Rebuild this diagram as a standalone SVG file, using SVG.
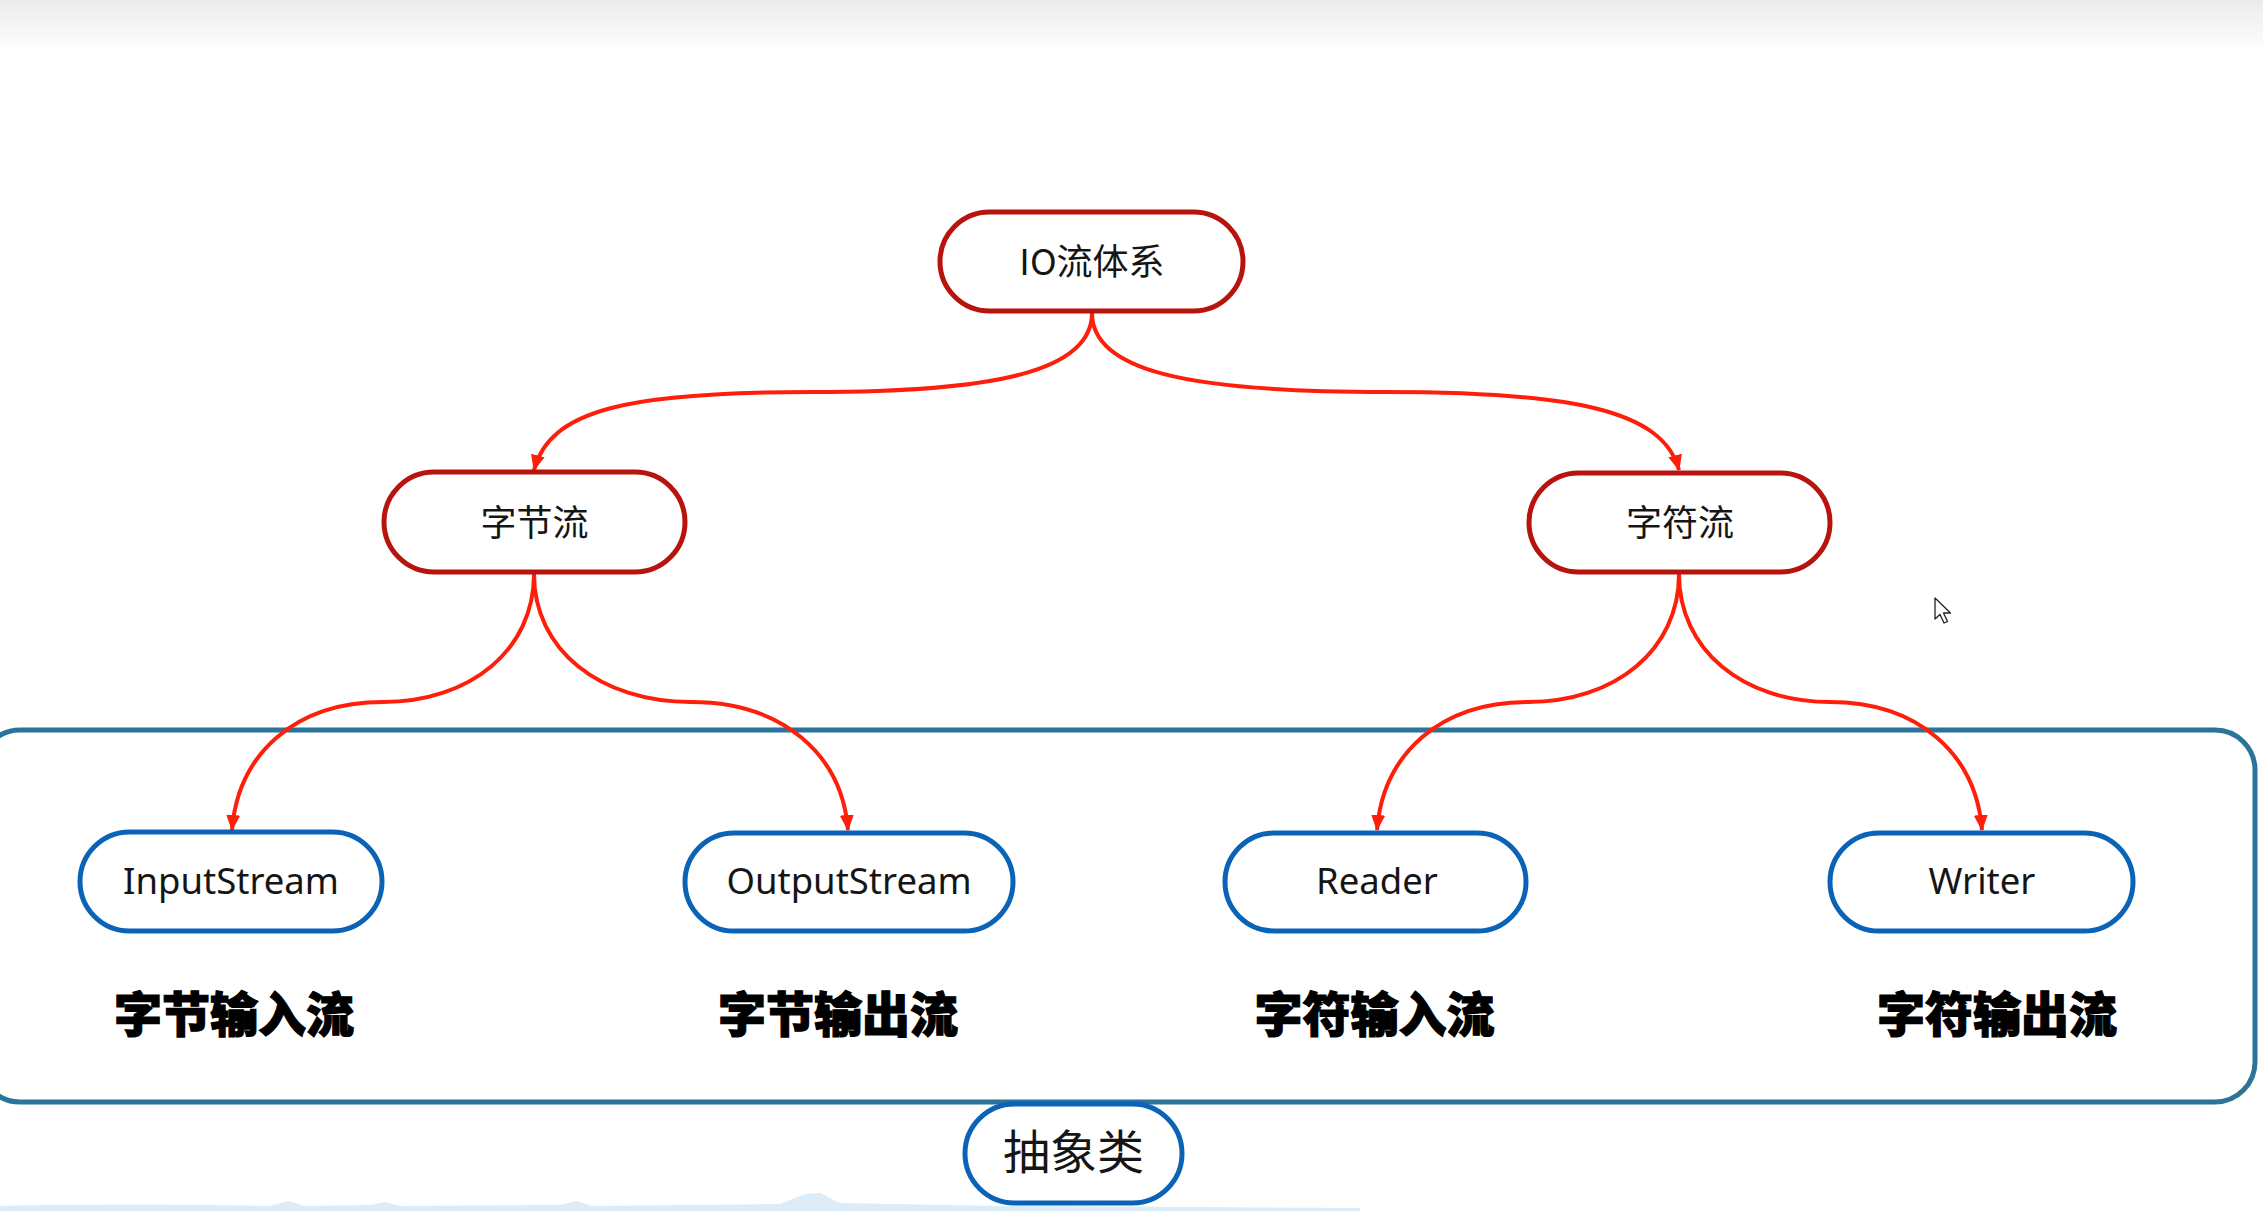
<svg xmlns="http://www.w3.org/2000/svg" width="2263" height="1211" viewBox="0 0 2263 1211">
  <defs>
    <linearGradient id="topfade" x1="0" y1="0" x2="0" y2="1">
      <stop offset="0" stop-color="#ebebeb"/>
      <stop offset="1" stop-color="#ffffff"/>
    </linearGradient>
    <marker id="arrow" viewBox="0 0 16 14" refX="15" refY="7" markerWidth="16" markerHeight="14" markerUnits="userSpaceOnUse" orient="auto">
      <path d="M0,0 L16,7 L0,14 Z" fill="#ff1e0a"/>
    </marker>
    <style>
      .red { fill: #ffffff; stroke: #b8140e; stroke-width: 5; }
      .blue { fill: #ffffff; stroke: #0a63b6; stroke-width: 5; }
      .frame { fill: none; stroke: #2b7398; stroke-width: 5; }
      .conn { fill: none; stroke: #ff1e0a; stroke-width: 4; marker-end: url(#arrow); }
      .cn { font-family: "Noto Sans CJK SC", "Noto Sans", sans-serif; font-size: 36px; fill: #151515; text-anchor: middle; }
      .en { font-family: "Noto Sans", "Open Sans", sans-serif; font-size: 36.5px; fill: #151515; text-anchor: middle; }
      .big { font-family: "Noto Sans CJK SC", sans-serif; font-size: 48px; font-weight: 900; fill: #000000; text-anchor: middle; stroke: #000; stroke-width: 1.2; }
    </style>
  </defs>

  <rect x="0" y="0" width="2263" height="1211" fill="#ffffff"/>
  <rect x="0" y="0" width="2263" height="52" fill="url(#topfade)"/>
  <path d="M0,1211 L0,1206 Q120,1203 270,1206 L289,1201 L305,1206 L370,1205 L385,1202 L400,1206 L560,1205 L577,1201 L592,1206 L780,1204 L805,1194 L820,1193 L840,1203 L1000,1206 L1360,1208 L1360,1211 Z" fill="#dcecf9"/>

  <g id="abstract-frame">
    <rect class="frame" x="-20" y="730" width="2275" height="372" rx="40" ry="40"/>
  </g>

  <g id="connectors">
    <path class="conn" d="M1092,313 C1092,370 1000,392 813,392 C626,392 550,410 534,470"/>
    <path class="conn" d="M1092,313 C1092,370 1184,392 1385,392 C1572,392 1663,410 1679,470"/>
    <path class="conn" d="M534,574 C534,650 470,702 383,702 C295,702 238,754 232,830"/>
    <path class="conn" d="M534,574 C534,650 600,702 691,702 C782,702 842,754 848,830"/>
    <path class="conn" d="M1679,574 C1679,650 1615,702 1528,702 C1440,702 1383,754 1377,830"/>
    <path class="conn" d="M1679,574 C1679,650 1743,702 1830,702 C1918,702 1976,754 1982,830"/>
  </g>

  <g id="node-io">
    <rect class="red" x="940" y="212" width="303" height="99" rx="49.5" ry="49.5"/>
    <text class="cn" x="1092" y="275">IO流体系</text>
  </g>
  <g id="node-byte">
    <rect class="red" x="384" y="472" width="301" height="100" rx="50" ry="50"/>
    <text class="cn" x="534.5" y="536">字节流</text>
  </g>
  <g id="node-char">
    <rect class="red" x="1529" y="473" width="301" height="99" rx="49.5" ry="49.5"/>
    <text class="cn" x="1680" y="536">字符流</text>
  </g>

  <g id="node-inputstream">
    <rect class="blue" x="80" y="832" width="302" height="99" rx="49.5" ry="49.5"/>
    <text class="en" x="231" y="894">InputStream</text>
    <text class="big" x="234" y="1032">字节输入流</text>
  </g>
  <g id="node-outputstream">
    <rect class="blue" x="685" y="833" width="328" height="98" rx="49" ry="49"/>
    <text class="en" x="849" y="894">OutputStream</text>
    <text class="big" x="838" y="1032">字节输出流</text>
  </g>
  <g id="node-reader">
    <rect class="blue" x="1225" y="833" width="301" height="98" rx="49" ry="49"/>
    <text class="en" x="1377" y="894">Reader</text>
    <text class="big" x="1374.5" y="1032">字符输入流</text>
  </g>
  <g id="node-writer">
    <rect class="blue" x="1830" y="833" width="303" height="98" rx="49" ry="49"/>
    <text class="en" x="1982" y="894">Writer</text>
    <text class="big" x="1997" y="1032">字符输出流</text>
  </g>

  <g id="node-abstract">
    <rect class="blue" x="965" y="1104" width="217" height="99" rx="49.5" ry="49.5"/>
    <text class="cn" x="1073.5" y="1169" style="font-size:47px">抽象类</text>
  </g>

  <g id="cursor">
    <path d="M1935,598 L1935,619 L1940,614.5 L1944,623 L1947.5,621.5 L1943.5,613 L1950.5,613 Z" fill="#ffffff" stroke="#222222" stroke-width="1.3" stroke-linejoin="round"/>
  </g>
</svg>
